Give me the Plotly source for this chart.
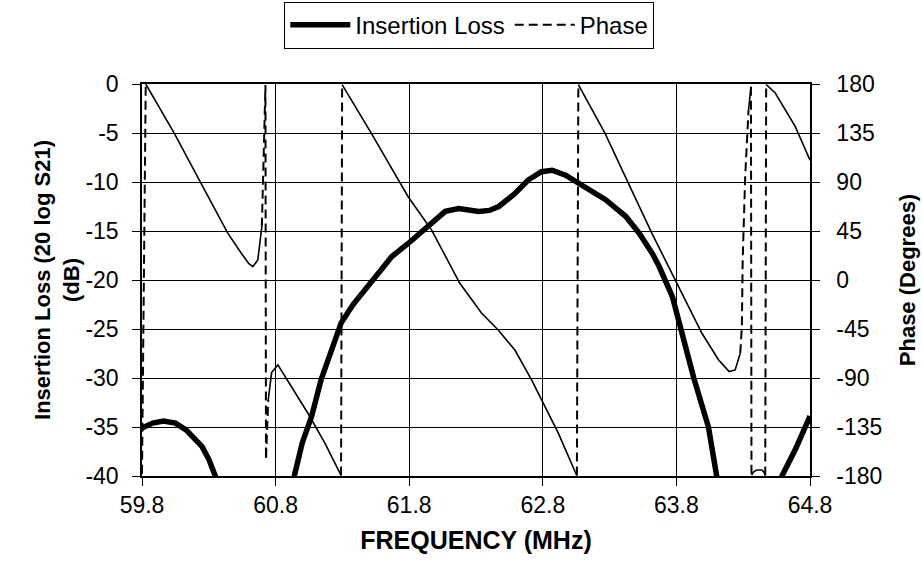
import plotly.graph_objects as go

# ---------------- data ----------------
x_ticks = [59.8, 60.8, 61.8, 62.8, 63.8, 64.8]
x_tick_labels = ["59.8", "60.8", "61.8", "62.8", "63.8", "64.8"]
il_ticks = [0, -5, -10, -15, -20, -25, -30, -35, -40]
il_tick_labels = ["0", "-5", "-10", "-15", "-20", "-25", "-30", "-35", "-40"]
phase_ticks = [180, 135, 90, 45, 0, -45, -90, -135, -180]
phase_tick_labels = ["180", "135", "90", "45", "0", "-45", "-90", "-135", "-180"]

# Insertion loss (dB); None = gap where the trace is far below -40 dB
il_freq = [59.80, 59.88, 59.96, 60.05, 60.13, 60.20, 60.25, 60.30, 60.35, 60.42,
           None,
           60.88, 60.94, 61.00, 61.07, 61.14, 61.22, 61.29, 61.38, 61.47, 61.58,
           61.67, 61.79, 61.94, 62.07, 62.17, 62.25, 62.32, 62.40, 62.47, 62.59,
           62.69, 62.79, 62.87, 62.97, 63.09, 63.27, 63.42, 63.52, 63.62, 63.67,
           63.77, 63.83, 63.93, 64.04, 64.10, 64.15,
           None,
           64.54, 64.59, 64.69, 64.80]
il_db = [-35.1, -34.6, -34.4, -34.6, -35.3, -36.2, -37.0, -38.3, -40.0, -42.5,
         None,
         -42.5, -40.0, -36.6, -33.9, -30.2, -27.0, -24.4, -22.5, -21.0, -19.0,
         -17.6, -16.3, -14.6, -13.0, -12.7, -12.8, -13.0, -12.9, -12.5, -11.2,
         -9.8, -8.95, -8.8, -9.3, -10.3, -11.8, -13.5, -15.2, -17.3, -18.6,
         -21.7, -25.0, -30.0, -35.0, -39.9, -42.5,
         None,
         -42.5, -40.0, -37.3, -33.9]

# Phase (degrees), wrapped to +-180
ph_freq = [59.800, 59.828, 60.042, 60.242, 60.442, 60.542, 60.600, 60.630, 60.667,
           60.697, 60.712, 60.724, 60.728, 60.745, 60.770, 60.817, 60.900, 61.042,
           61.170, 61.290, 61.298, 61.517, 61.792, 61.967, 62.179, 62.341, 62.466,
           62.591, 62.716, 62.816, 62.916, 63.041, 63.055, 63.066, 63.266, 63.441,
           63.616, 63.816, 63.991, 64.116, 64.195, 64.240, 64.278, 64.290, 64.296,
           64.315, 64.340, 64.358, 64.362, 64.380, 64.403, 64.440, 64.458, 64.465,
           64.472, 64.540, 64.690, 64.800]
ph_deg = [-178.0, 180.0, 134.7, 88.8, 43.0, 24.8, 15.0, 12.3, 18.4,
          49.0, 110.0, 179.0, -165.0, -110.0, -85.0, -78.0, -94.0, -122.4,
          -150.0, -179.5, 179.5, 134.7, 76.5, 46.0, -3.0, -30.3, -45.9,
          -64.3, -91.8, -116.2, -140.7, -175.9, -179.5, 179.5, 134.7, 88.8,
          43.0, -6.0, -48.9, -73.4, -84.1, -82.6, -67.2, -42.8, 18.4,
          95.0, 156.0, 177.5, -179.0, -176.0, -174.5, -174.5, -177.0, -179.5,
          179.5, 171.7, 140.8, 110.0]

# ---------------- split phase into smooth parts and steep jumps ----------------
STEEP = 1200.0  # deg / MHz : steeper segments are drawn dashed (as in the original)
solid_x, solid_y, dash_x, dash_y = [], [], [], []
for i in range(len(ph_freq) - 1):
    f0, f1 = ph_freq[i], ph_freq[i + 1]
    p0, p1 = ph_deg[i], ph_deg[i + 1]
    steep = abs(p1 - p0) / (f1 - f0) > STEEP
    tx, ty = (dash_x, dash_y) if steep else (solid_x, solid_y)
    if tx and tx[-1] == f0 and ty[-1] == p0:
        tx.append(f1); ty.append(p1)
    else:
        if tx:
            tx.append(None); ty.append(None)
        tx.extend([f0, f1]); ty.extend([p0, p1])

FONT = "Liberation Sans, Arial, Helvetica, sans-serif"

fig = go.Figure()
fig.add_trace(go.Scatter(x=il_freq, y=il_db, mode="lines", name="Insertion Loss",
                         line=dict(color="black", width=5.5), connectgaps=False,
                         legendrank=1))
fig.add_trace(go.Scatter(x=solid_x, y=solid_y, mode="lines", name="Phase",
                         line=dict(color="black", width=1.6), yaxis="y2",
                         showlegend=False, legendgroup="ph", connectgaps=False))
fig.add_trace(go.Scatter(x=dash_x, y=dash_y, mode="lines", name="Phase",
                         line=dict(color="black", width=2, dash="9px,5px"), yaxis="y2",
                         legendgroup="ph", connectgaps=False, legendrank=2))

fig.update_layout(
    width=922, height=563,
    margin=dict(l=142, r=112, t=84, b=87, pad=0, autoexpand=False),
    paper_bgcolor="white", plot_bgcolor="white",
    font=dict(family=FONT, color="black", size=23),
    showlegend=True,
    legend=dict(orientation="h", x=0.49, xanchor="center", y=1.21, yanchor="top",
                bordercolor="black", borderwidth=1, bgcolor="white",
                font=dict(size=24, family=FONT), itemwidth=60,
                tracegroupgap=0, traceorder="normal"),
    xaxis=dict(range=[59.8, 64.8], tickvals=x_ticks, ticktext=x_tick_labels,
               showgrid=True, gridcolor="black", gridwidth=1, zeroline=False,
               showline=True, linecolor="black", linewidth=1.5, mirror=True,
               ticks="outside", ticklen=8, tickcolor="black",
               ticklabelstandoff=0, automargin=False,
               tickfont=dict(size=23),
               title=dict(text="FREQUENCY (MHz)", font=dict(size=25, weight="bold"),
                          standoff=14)),
    yaxis=dict(range=[-40, 0], tickvals=il_ticks, ticktext=il_tick_labels,
               showgrid=True, gridcolor="black", gridwidth=1, zeroline=False,
               showline=True, linecolor="black", linewidth=1.5,
               ticks="outside", ticklen=8, tickcolor="black",
               ticklabelstandoff=9, automargin=False,
               tickfont=dict(size=23),
               title=dict(text="Insertion Loss (20 log S21)<br>(dB)",
                          font=dict(size=22, weight="bold"), standoff=0)),
    yaxis2=dict(range=[-180, 180], tickvals=phase_ticks, ticktext=phase_tick_labels,
                overlaying="y", side="right",
                showgrid=False, zeroline=False,
                showline=True, linecolor="black", linewidth=1.5,
                ticks="outside", ticklen=8, tickcolor="black",
                ticklabelstandoff=12, automargin=False,
                tickfont=dict(size=23),
                title=dict(text="Phase (Degrees)", font=dict(size=22, weight="bold"),
                           standoff=18)),
)

fig.write_html("out.html")
